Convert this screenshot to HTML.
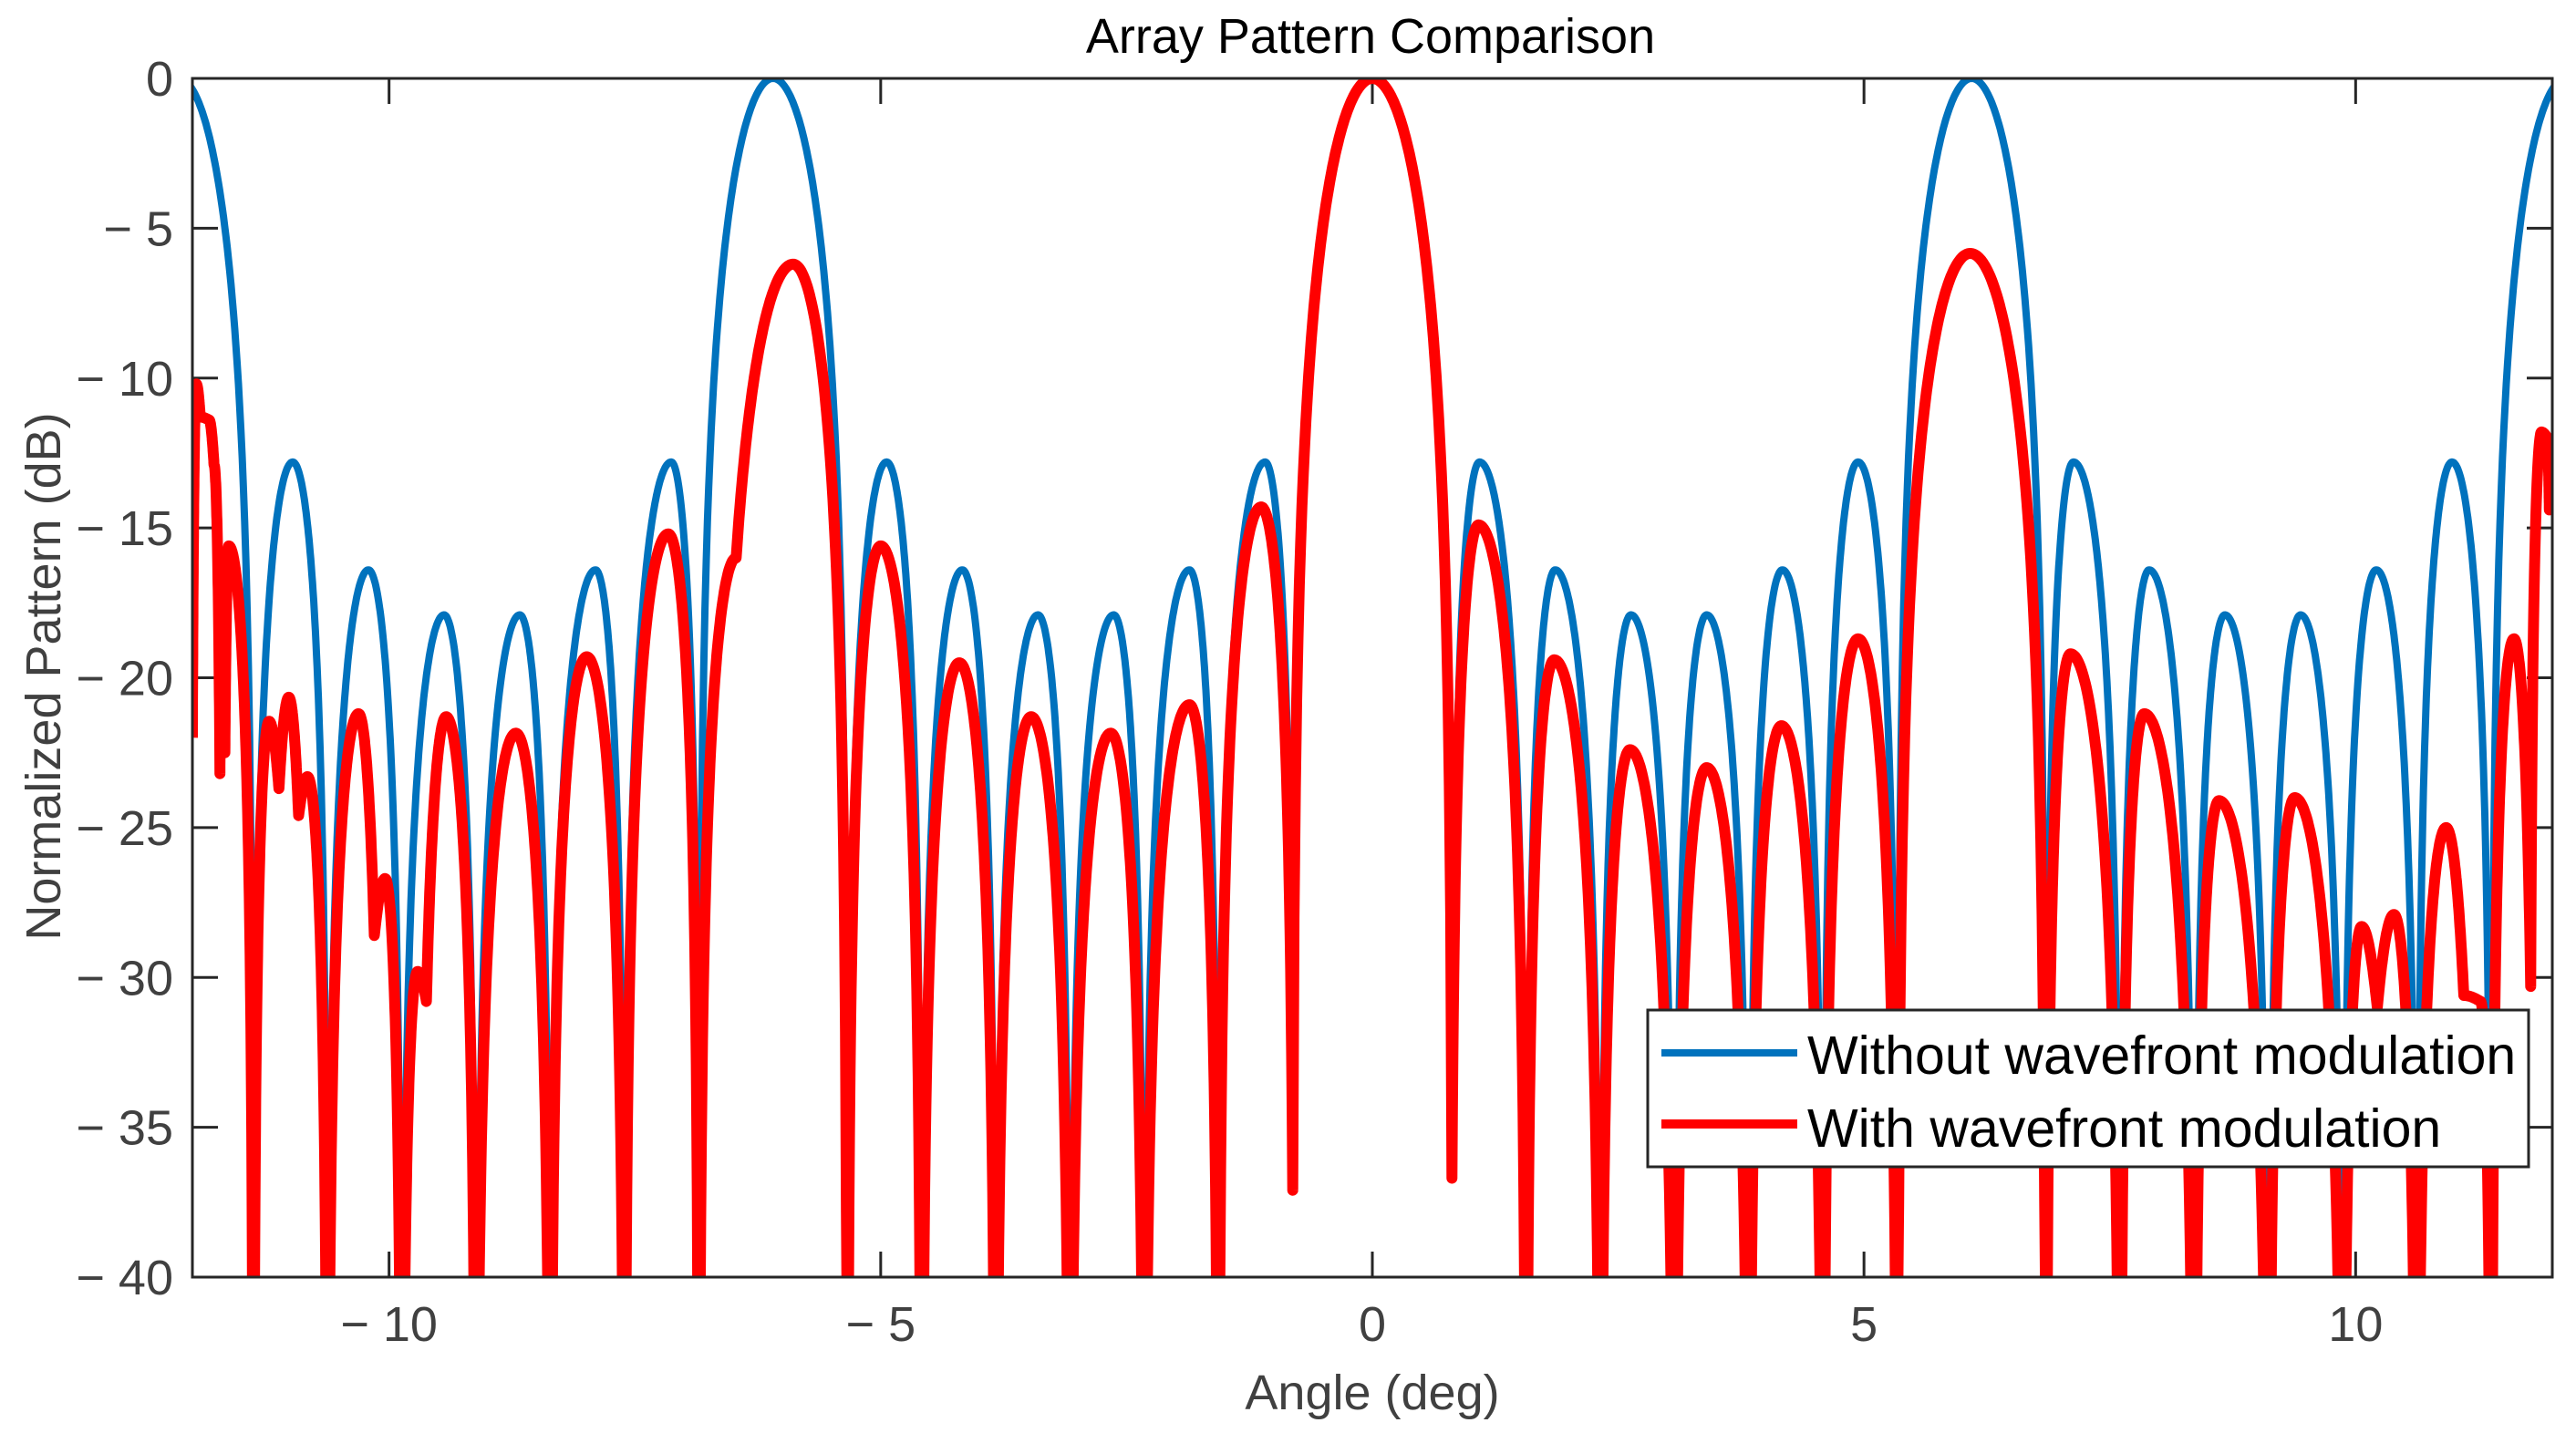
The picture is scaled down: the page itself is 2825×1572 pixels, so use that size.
<!DOCTYPE html>
<html><head><meta charset="utf-8">
<style>
html,body{margin:0;padding:0;background:#fff;width:2825px;height:1572px;overflow:hidden;}
svg{display:block;overflow:hidden;}
text{font-family:"Liberation Sans",Arial,sans-serif;}
</style></head>
<body>
<svg id="chart" width="2825" height="1572" viewBox="0 0 2825 1572" xmlns="http://www.w3.org/2000/svg">
  <rect x="0" y="0" width="2825" height="1572" fill="#fff"/>
  <defs><clipPath id="plotclip"><rect x="211" y="86" width="2588" height="1315"/></clipPath></defs>
  <rect x="211" y="86" width="2588" height="1315" fill="#fff"/>
  <g id="ticks"></g>
  <g clip-path="url(#plotclip)">
    <path id="blueLine" fill="none" stroke="#0072BD" stroke-width="8" stroke-linejoin="round"/>
    <path id="redLine" fill="none" stroke="#FF0000" stroke-width="12" stroke-linejoin="round"/>
  </g>
  <rect x="211" y="86" width="2588" height="1315" fill="none" stroke="#262626" stroke-width="3"/>
  <g id="xlabels"></g>
  <g id="ylabels"></g>
  <text x="1503" y="58" font-size="54" text-anchor="middle" fill="#000">Array Pattern Comparison</text>
  <text x="1505" y="1546" font-size="54" text-anchor="middle" fill="#404040">Angle (deg)</text>
  <text x="0" y="0" font-size="54" text-anchor="middle" fill="#404040" transform="translate(66,742) rotate(-90)">Normalized Pattern (dB)</text>
  <g>
    <rect x="1807" y="1108" width="966" height="172" fill="#fff" stroke="#262626" stroke-width="3"/>
    <line x1="1822" y1="1155" x2="1971" y2="1155" stroke="#0072BD" stroke-width="8"/>
    <text x="1982" y="1178" font-size="59" fill="#000">Without wavefront modulation</text>
    <line x1="1822" y1="1233" x2="1971" y2="1233" stroke="#FF0000" stroke-width="10"/>
    <text x="1982" y="1258" font-size="59" fill="#000">With wavefront modulation</text>
  </g>
</svg>
<script>
// ---- data (angle in deg, level in dB; -100 = deep null below axis) ----
const xTicks = [-10, -5, 0, 5, 10];
const yTicks = [0, -5, -10, -15, -20, -25, -30, -35, -40];
const blueAngles = [-12.14,-11.38,-10.98,-10.625,-10.21,-9.87,-9.44,-9.115,-8.67,-8.36,-7.90,-7.605,-7.13,-6.85,-6.095,-5.34,-4.94,-4.585,-4.17,-3.83,-3.40,-3.075,-2.63,-2.32,-1.86,-1.565,-1.09,-0.81,0,0.81,1.09,1.565,1.86,2.32,2.63,3.075,3.40,3.83,4.17,4.585,4.94,5.34,6.095,6.85,7.13,7.605,7.90,8.36,8.67,9.115,9.44,9.87,10.21,10.625,10.98,11.38,12.14];
const blueDb = [0,-100,-12.8,-100,-16.4,-100,-17.9,-100,-17.9,-100,-16.4,-100,-12.8,-100,0,-100,-12.8,-100,-16.4,-100,-17.9,-100,-17.9,-100,-16.4,-100,-12.8,-36.5,0,-36.5,-12.8,-100,-16.4,-100,-17.9,-100,-17.9,-100,-16.4,-100,-12.8,-100,0,-100,-12.8,-100,-16.4,-100,-17.9,-100,-17.9,-100,-16.4,-100,-12.8,-100,0];
const redAngles = [-12.0,-11.96,-11.92,-11.83,-11.78,-11.72,-11.69,-11.67,-11.63,-11.38,-11.22,-11.12,-11.02,-10.92,-10.83,-10.625,-10.31,-10.15,-10.04,-9.87,-9.71,-9.62,-9.42,-9.115,-8.71,-8.36,-7.99,-7.605,-7.16,-6.85,-6.47,-5.89,-5.34,-5.0,-4.585,-4.2,-3.83,-3.47,-3.075,-2.66,-2.32,-1.86,-1.565,-1.13,-0.81,0,0.81,1.08,1.565,1.85,2.32,2.62,3.075,3.40,3.83,4.16,4.585,4.94,5.34,6.08,6.85,7.10,7.605,7.85,8.36,8.61,9.115,9.38,9.87,10.06,10.22,10.39,10.625,10.92,11.10,11.27,11.38,11.61,11.78,11.89,11.95,11.97,12.0];
const redDb = [-22,-10.2,-11.3,-11.4,-12.9,-23.2,-16.3,-22.5,-15.6,-100,-21.45,-23.7,-20.65,-24.6,-23.3,-100,-21.2,-28.6,-26.7,-100,-29.8,-30.8,-21.3,-100,-21.85,-100,-19.3,-100,-15.2,-100,-16.0,-6.2,-100,-15.6,-100,-19.5,-100,-21.3,-100,-21.85,-100,-20.9,-100,-14.3,-37.1,0,-36.7,-14.9,-100,-19.4,-100,-22.4,-100,-23.0,-100,-21.6,-100,-18.7,-100,-5.84,-100,-19.2,-100,-21.2,-100,-24.1,-100,-24.0,-100,-28.3,-31,-27.9,-100,-25.0,-30.6,-30.8,-100,-18.7,-30.3,-11.8,-12.0,-14.4,-12.5];

// ---- axes ----
const L = 211, R = 2799, T = 86, B = 1401;
const xMin = -12, xMax = 12, yMin = -40, yMax = 0;
function X(a){ return L + (a - xMin) / (xMax - xMin) * (R - L); }
function Y(d){ return T + (yMax - d) / (yMax - yMin) * (B - T); }
const NS = 'http://www.w3.org/2000/svg';
function fmt(v){ return v < 0 ? '\u2212 ' + Math.abs(v) : String(v); }

const tickG = document.getElementById('ticks');
const xl = document.getElementById('xlabels');
const yl = document.getElementById('ylabels');
xTicks.forEach(v => {
  const x = X(v);
  [[B, B - 28], [T, T + 28]].forEach(p => {
    const ln = document.createElementNS(NS, 'line');
    ln.setAttribute('x1', x); ln.setAttribute('x2', x);
    ln.setAttribute('y1', p[0]); ln.setAttribute('y2', p[1]);
    ln.setAttribute('stroke', '#262626'); ln.setAttribute('stroke-width', '3');
    
    
    tickG.appendChild(ln);
  });
  const t = document.createElementNS(NS, 'text');
  t.setAttribute('x', x); t.setAttribute('y', 1471);
  t.setAttribute('font-size', '54'); t.setAttribute('fill', '#404040');
  t.setAttribute('text-anchor', 'middle');
  t.textContent = fmt(v);
  
  
  xl.appendChild(t);
});
yTicks.forEach(v => {
  const y = Y(v);
  [[L, L + 28], [R, R - 28]].forEach(p => {
    const ln = document.createElementNS(NS, 'line');
    ln.setAttribute('x1', p[0]); ln.setAttribute('x2', p[1]);
    ln.setAttribute('y1', y); ln.setAttribute('y2', y);
    ln.setAttribute('stroke', '#262626'); ln.setAttribute('stroke-width', '3');
    
    
    tickG.appendChild(ln);
  });
  const t = document.createElementNS(NS, 'text');
  t.setAttribute('x', 190); t.setAttribute('y', y + 19);
  t.setAttribute('font-size', '54'); t.setAttribute('fill', '#404040');
  t.setAttribute('text-anchor', 'end');
  t.textContent = fmt(v);
  
  
  yl.appendChild(t);
});

// ---- series: lobe-shaped segments between key points ----
function buildPath(angles, dbs){
  const M = 60; let d = '';
  for (let i = 0; i < angles.length - 1; i++) {
    const a0 = angles[i], a1 = angles[i+1];
    const p0 = dbs[i] <= -99 ? 0 : Math.pow(10, dbs[i]/20);
    const p1 = dbs[i+1] <= -99 ? 0 : Math.pow(10, dbs[i+1]/20);
    const hi = Math.max(p0, p1), lo = Math.min(p0, p1);
    for (let k = (i === 0 ? 0 : 1); k <= M; k++) {
      const t = k / M;
      const s = p0 >= p1 ? 1 - t : t;
      const amp = lo + (hi - lo) * Math.sin(Math.PI / 2 * s);
      let db = 20 * Math.log10(Math.max(amp, 1e-4));
      if (db < -42) db = -42;
      const x = X(a0 + (a1 - a0) * t), y = Y(db);
      d += (d === '' ? 'M' : 'L') + x.toFixed(1) + ',' + y.toFixed(1);
    }
  }
  return d;
}
document.getElementById('blueLine').setAttribute('d', buildPath(blueAngles, blueDb));
document.getElementById('redLine').setAttribute('d', buildPath(redAngles, redDb));
</script>
</body></html>
